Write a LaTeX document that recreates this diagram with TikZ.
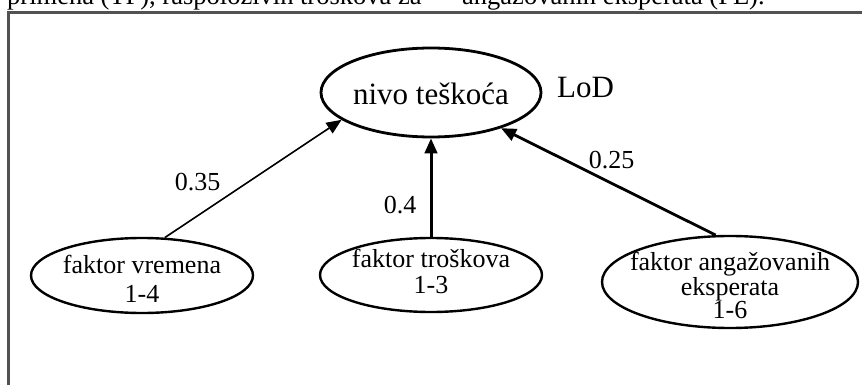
\documentclass[tikz,border=0pt]{standalone}
\usepackage{fontspec}
\setmainfont{Liberation Serif}
\usetikzlibrary{shapes.geometric,arrows.meta}
\begin{document}
\begin{tikzpicture}[x=1pt,y=-1pt,
  oval/.style={draw=black,ellipse,inner sep=0pt},
  factor/.style={oval,line width=2.4pt},
  txt/.style={inner sep=0pt,align=center},
  weight/.style={anchor=base,inner sep=0pt,font=\fontsize{26}{29}\selectfont},
  link/.style={-{Triangle[length=15pt,width=12.5pt]},draw=black},
  frameline/.style={draw=black!68,line width=2.6pt,line join=miter}]
\useasboundingbox (0,0) rectangle (862,385);
\clip (0,0) rectangle (862,385);
\fill[white] (0,0) rectangle (862,385);
% cut-off caption line above the frame
\node[anchor=base west,inner sep=0pt,font=\fontsize{26.5}{30}\selectfont] (cap1) at (7,5) {primena (TP), raspoloživih troškova za};
\node[anchor=base west,inner sep=0pt,font=\fontsize{26.5}{30}\selectfont] (cap2) at (462,5) {angažovanih eksperata (PE).};
% frame
\draw[frameline] (870,12.5) -- (8.3,12.5) -- (8.3,395);
% ellipses
\node[oval,line width=2.8pt,minimum width=220pt,minimum height=89pt] (nt) at (431,92.5) {};
\node[txt,font=\fontsize{31}{36}\selectfont] (ntt) at (431,93.4) {nivo teškoća};
\node[anchor=base west,inner sep=0pt,font=\fontsize{31}{36}\selectfont] (lod) at (557,98) {LoD};
\node[factor,minimum width=222pt,minimum height=75pt] (fv) at (142,275.5) {};
\node[txt,font=\fontsize{26}{29}\selectfont] (fvt) at (142,278.6) {faktor vremena\\1-4};
\node[factor,minimum width=222pt,minimum height=74pt] (ft) at (431,275) {};
\node[txt,font=\fontsize{26}{26}\selectfont] (ftt) at (431,271.1) {faktor troškova\\1-3};
\node[factor,minimum width=256pt,minimum height=92pt] (fa) at (730,282) {};
\node[txt,font=\fontsize{26}{23.5}\selectfont] (fat) at (730,285.6) {faktor angažovanih\\eksperata\\1-6};
% connectors
\draw[link,line width=1.6pt] (fv.59) -- (nt.197);
\draw[link,line width=3pt] (ft.90) -- (nt.270);
\draw[link,line width=2.8pt] (fa.107) -- (nt.333.6);
% weights
\node[weight] (w1) at (197.5,190) {0.35};
\node[weight] (w2) at (400,213) {0.4};
\node[weight] (w3) at (611.5,168) {0.25};
\end{tikzpicture}
\end{document}
